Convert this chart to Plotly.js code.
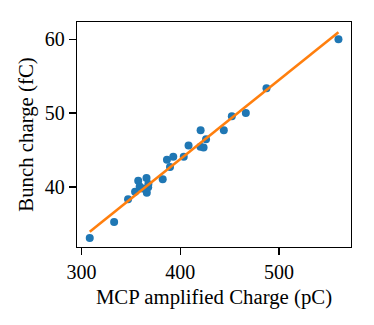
<!DOCTYPE html>
<html>
<head>
<meta charset="utf-8">
<script src="https://cdn.plot.ly/plotly-3.0.1.min.js"></script>
<style>
  html, body { margin: 0; padding: 0; background: #fff; }
  #chart { width: 374px; height: 325px; }
</style>
</head>
<body>
<div id="chart"></div>
<script>
// Measured MCP amplified charge (pC) against bunch charge (fC)
const mcpCharge = [308.4, 333.1, 347.2, 354.3, 357.5, 359.0, 362.0, 365.9, 366.2, 367.6,
                   367.8, 382.3, 386.6, 389.7, 393.0, 403.6, 408.5, 420.7, 420.5, 423.7,
                   426.2, 444.2, 452.3, 466.5, 487.4, 560.3];
const bunchCharge = [33.09, 35.26, 38.33, 39.35, 40.85, 40.05, 39.80, 41.20, 39.23, 39.96,
                     40.40, 41.06, 43.70, 42.70, 44.10, 44.10, 45.63, 47.68, 45.44, 45.33,
                     46.46, 47.68, 49.58, 50.03, 53.37, 60.00];

// Linear fit, drawn between the smallest and largest measured charge
const fitX = [308.4, 560.3];
const fitY = [33.94, 60.96];

const xTicks = [300, 400, 500];
const yTicks = [40, 50, 60];

const SERIF = 'Liberation Serif';
function serif(size) { return { family: SERIF, size: size, color: '#000' }; }

const traces = [
  {
    x: mcpCharge, y: bunchCharge, type: 'scatter', mode: 'markers',
    marker: { color: '#1f77b4', size: 8, line: { width: 0 } },
    hoverinfo: 'skip'
  },
  {
    x: fitX, y: fitY, type: 'scatter', mode: 'lines',
    line: { color: '#ff7f0e', width: 2.6 },
    hoverinfo: 'skip'
  }
];

function axis(extra) {
  return Object.assign({
    showline: true, linecolor: '#000', linewidth: 1.3, mirror: true,
    ticks: 'outside', ticklen: 7, tickwidth: 1.3, tickcolor: '#000',
    showgrid: false, zeroline: false, tickfont: serif(20)
  }, extra);
}

const layout = {
  width: 374, height: 325,
  margin: { l: 77, r: 23, t: 22, b: 78 },
  paper_bgcolor: '#fff', plot_bgcolor: '#fff',
  showlegend: false,
  font: serif(20),
  xaxis: axis({
    range: [295.5, 573], tickvals: xTicks, ticktext: xTicks.map(String),
    title: { text: 'MCP amplified Charge (pC)', font: serif(20.8), standoff: 7 }
  }),
  yaxis: axis({
    range: [31.87, 62.34], tickvals: yTicks, ticktext: yTicks.map(String),
    title: { text: 'Bunch charge (fC)', font: serif(20.8), standoff: 5 }
  })
};

Plotly.newPlot('chart', traces, layout, { staticPlot: true, displayModeBar: false });
</script>
</body>
</html>
